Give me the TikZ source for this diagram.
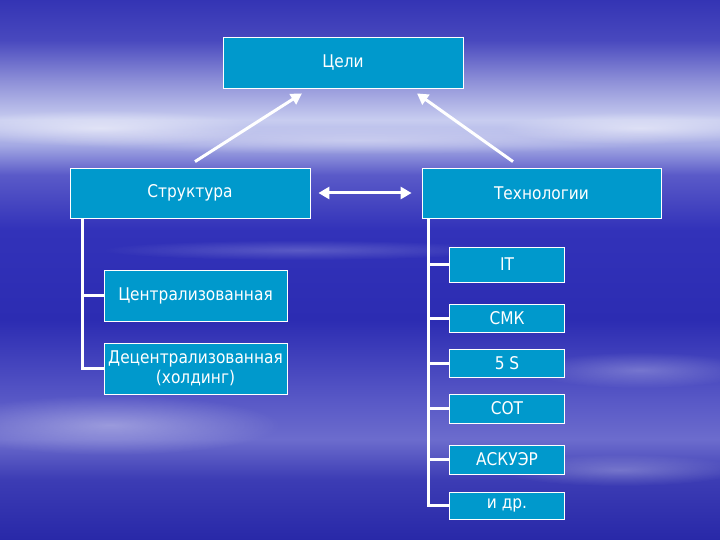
\documentclass[tikz,border=0pt]{standalone}
\usepackage{fontspec}
\setmainfont{DejaVu Sans}[FakeStretch=0.88]
\usetikzlibrary{arrows.meta,calc,fadings}
\definecolor{boxfill}{RGB}{0,153,204}
\definecolor{b0}{RGB}{52,52,180}
\definecolor{b1}{RGB}{72,72,190}
\definecolor{b2}{RGB}{140,142,215}
\definecolor{b3}{RGB}{200,205,240}
\definecolor{b4}{RGB}{165,170,228}
\definecolor{b5}{RGB}{90,90,200}
\definecolor{b6}{RGB}{50,50,185}
\definecolor{b7}{RGB}{44,44,178}
\definecolor{b8}{RGB}{88,88,198}
\definecolor{b9}{RGB}{108,108,205}
\definecolor{b10}{RGB}{60,60,180}
\definecolor{b11}{RGB}{40,40,168}
\pgfdeclareverticalshading{bgshade}{100bp}{%
color(0bp)=(b11); color(25bp)=(b11); color(30.6bp)=(b10); color(34.3bp)=(b9);
color(38bp)=(b8); color(45.4bp)=(b7); color(53.7bp)=(b6); color(58.8bp)=(b5);
color(61.6bp)=(b4); color(63.9bp)=(b3); color(67.6bp)=(b2); color(71.3bp)=(b1);
color(75bp)=(b0); color(100bp)=(b0)}
\tikzfading[name=softblob, inner color=transparent!0, outer color=transparent!100]
\tikzset{
  box/.style={draw=white, line width=0.8pt, fill=boxfill, text=white,
    inner sep=1pt, align=center, font=\fontsize{17.5}{20}\selectfont},
  conn/.style={draw=white, line width=3pt},
  arr/.style={draw=white, line width=3pt, -{Triangle[length=11pt,width=12pt]}},
  darr/.style={draw=white, line width=3pt, {Triangle[length=11pt,width=12pt]}-{Triangle[length=11pt,width=12pt]}},
  cloud/.style={fill=white, path fading=softblob}
}
\begin{document}
\begin{tikzpicture}[x=1pt,y=-1pt]
\useasboundingbox (0,0) rectangle (720,540);
\shade[shading=bgshade] (0,0) rectangle (720,540);
% soft cloud streaks
\fill[cloud,opacity=0.55] (100,128) ellipse (160 and 18);
\fill[cloud,opacity=0.5] (640,128) ellipse (140 and 16);
\fill[cloud,opacity=0.35] (360,140) ellipse (320 and 14);
\fill[cloud,opacity=0.35] (110,425) ellipse (170 and 30);
\fill[cloud,opacity=0.25] (640,370) ellipse (110 and 18);
\fill[cloud,opacity=0.25] (620,470) ellipse (120 and 16);
\fill[cloud,opacity=0.2] (300,250) ellipse (200 and 10);
% nodes
\node[box, minimum width=240pt, minimum height=51pt] (goals) at (343,62.5) {Цели};
\node[box, minimum width=240pt, minimum height=50pt] (struct) at (190,193) {Структура};
\node[box, minimum width=239pt, minimum height=50pt] (tech) at (541.5,193) {Технологии};
\node[box, minimum width=183pt, minimum height=51pt] (central) at (195.5,295.5) {Централизованная};
\node[box, minimum width=183pt, minimum height=51pt, inner sep=0pt] (decentral) at (195.5,368.5) {Децентрализованная\\(холдинг)};
\node[box, minimum width=115pt, minimum height=35pt] (it) at (507,264.5) {IT};
\node[box, minimum width=115pt, minimum height=28pt] (smk) at (507,318) {СМК};
\node[box, minimum width=115pt, minimum height=28pt] (five) at (507,363) {5 S};
\node[box, minimum width=115pt, minimum height=29pt] (sot) at (507,408.5) {СОТ};
\node[box, minimum width=115pt, minimum height=29pt] (askuer) at (507,459.5) {АСКУЭР};
\node[box, minimum width=115pt, minimum height=27pt] (idr) at (507,505.5) {и др.};
% arrows
\draw[arr] ([shift={(5pt,6pt)}]struct.north) -- ([shift={(-41pt,-5pt)}]goals.south);
\draw[arr] ([shift={(-28.5pt,6pt)}]tech.north) -- ([shift={(74pt,-5pt)}]goals.south);
\draw[darr] ([xshift=8pt]struct.east) -- ([xshift=-10pt]tech.west);
% left tree
\coordinate (lv) at ([xshift=13pt]struct.south west);
\draw[conn] (lv) |- (decentral.west);
\draw[conn] (central.west -| lv) -- (central.west);
% right tree
\coordinate (rv) at ([xshift=7pt]tech.south west);
\draw[conn] (rv) |- (idr.west);
\foreach \n in {it,smk,five,sot,askuer}{
  \draw[conn] (\n.west -| rv) -- (\n.west);
}
\end{tikzpicture}
\end{document}
